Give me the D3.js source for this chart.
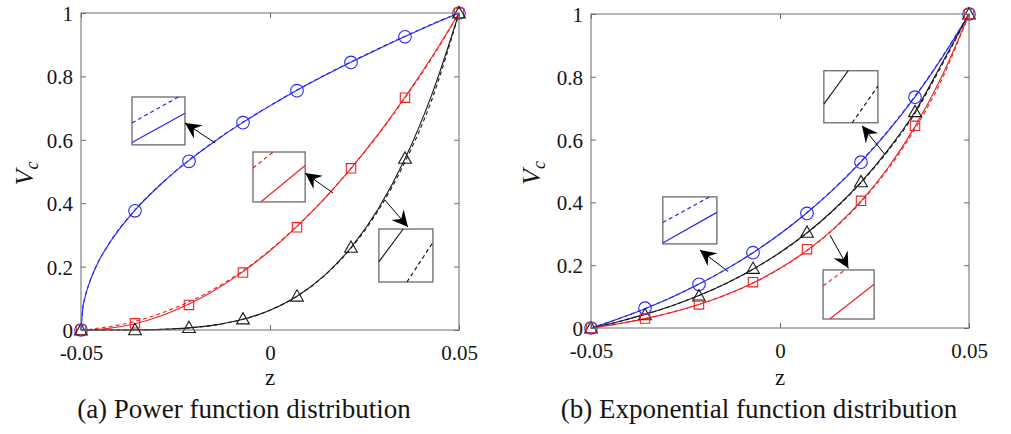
<!DOCTYPE html>
<html>
<head>
<meta charset="utf-8">
<script src="https://cdn.jsdelivr.net/npm/d3@7"></script>
<style>
  body { margin: 0; background: #fff; }
  svg text { font-family: "Liberation Serif", "Times New Roman", serif !important; fill: #151515; }
</style>
</head>
<body>
<svg id="chart" width="1011" height="434" font-family="Liberation Serif, serif"></svg>
<script>
// ---- data -------------------------------------------------------------
// marker abscissae (seven equal steps across the thickness)
const markerZ = [-0.05, -0.035714, -0.021429, -0.007143, 0.007143, 0.021429, 0.035714, 0.05];
// abscissae used for the continuous curves
const curveZ = [-0.05, -0.0495, -0.049, -0.048, -0.0465, -0.045,
  -0.042857, -0.035714, -0.028571, -0.021429, -0.014286, -0.007143, 0,
  0.007143, 0.014286, 0.021429, 0.028571, 0.035714, 0.042857, 0.05];

// (a) power function distribution
const powBlueLine   = [0, 0.071, 0.100, 0.141, 0.187, 0.224, 0.267, 0.378, 0.463, 0.535, 0.598, 0.655, 0.707, 0.756, 0.802, 0.845, 0.886, 0.926, 0.964, 1];
const powBlueDash   = [0, 0.072, 0.101, 0.142, 0.188, 0.225, 0.268, 0.379, 0.464, 0.536, 0.599, 0.656, 0.708, 0.757, 0.803, 0.846, 0.887, 0.927, 0.965, 1];
const powRedLine    = [0, 0.00003, 0.0001, 0.0004, 0.0012, 0.0025, 0.005, 0.020, 0.046, 0.082, 0.128, 0.184, 0.250, 0.327, 0.413, 0.510, 0.617, 0.735, 0.862, 1];
const powRedDash    = [0, 0.0003, 0.0008, 0.0018, 0.004, 0.0065, 0.010, 0.027, 0.054, 0.089, 0.133, 0.187, 0.252, 0.328, 0.413, 0.510, 0.615, 0.732, 0.858, 1];
const powBlackLine  = [0, 0, 0, 0, 0, 0, 0.00003, 0.0004, 0.0021, 0.0067, 0.0163, 0.0337, 0.0625, 0.1066, 0.1708, 0.2603, 0.381, 0.540, 0.744, 1];
const powBlackDash  = [0, 0, 0, 0, 0, 0, 0.00003, 0.0004, 0.0021, 0.0067, 0.0163, 0.0337, 0.0625, 0.1066, 0.1700, 0.2580, 0.376, 0.530, 0.728, 1];
const powBlueMark   = [0, 0.376, 0.532, 0.654, 0.755, 0.844, 0.925, 1];
const powRedMark    = [0, 0.021, 0.079, 0.181, 0.324, 0.510, 0.733, 1];
const powBlackMark  = [0, 0.001, 0.008, 0.035, 0.107, 0.261, 0.542, 1];

// (b) exponential function distribution
const expBlueLine   = [0, 0.0019, 0.0038, 0.0077, 0.0136, 0.0195, 0.0289, 0.0615, 0.0982, 0.1398, 0.1867, 0.2396, 0.2994, 0.3669, 0.4432, 0.5293, 0.6264, 0.7362, 0.8602, 1];
const expBlueDash   = [0, 0.0019, 0.0038, 0.0077, 0.0136, 0.0195, 0.0290, 0.0617, 0.0985, 0.1402, 0.1872, 0.2402, 0.3002, 0.3679, 0.4445, 0.5310, 0.6285, 0.7385, 0.8625, 1];
const expBlackLine  = [0, 0.0013, 0.0026, 0.0052, 0.0091, 0.0131, 0.0199, 0.0434, 0.0710, 0.1035, 0.1420, 0.1872, 0.2405, 0.3033, 0.3774, 0.4647, 0.5675, 0.6888, 0.8433, 1];
const expBlackDash  = [0, 0.0013, 0.0026, 0.0052, 0.0091, 0.0131, 0.0199, 0.0434, 0.0710, 0.1035, 0.1418, 0.1868, 0.2398, 0.3022, 0.3760, 0.4625, 0.5640, 0.6840, 0.8380, 1];
const expRedLine    = [0, 0.0009, 0.0017, 0.0035, 0.0062, 0.0089, 0.0134, 0.0299, 0.0502, 0.0751, 0.1058, 0.1436, 0.1900, 0.2472, 0.3175, 0.4039, 0.5104, 0.6413, 0.8023, 1];
const expRedDash    = [0, 0.0009, 0.0017, 0.0035, 0.0062, 0.0089, 0.0134, 0.0299, 0.0502, 0.0751, 0.1056, 0.1432, 0.1893, 0.2462, 0.3160, 0.4010, 0.5060, 0.6340, 0.7930, 1];
const expBlueMark   = [0, 0.063, 0.139, 0.240, 0.365, 0.528, 0.735, 1];
const expBlackMark  = [0, 0.042, 0.102, 0.190, 0.305, 0.466, 0.689, 1];
const expRedMark    = [0, 0.030, 0.075, 0.146, 0.251, 0.405, 0.644, 1];

// axes ticks
const xTickValues = [-0.05, 0, 0.05];
const xTickLabels = ["-0.05", "0", "0.05"];
const yTickValues = [0, 0.2, 0.4, 0.6, 0.8, 1];
const yTickLabels = ["0", "0.2", "0.4", "0.6", "0.8", "1"];

const captions = ["(a) Power function distribution", "(b) Exponential function distribution"];

// ---- styling & layout --------------------------------------------------
const FONT = '"Liberation Serif", "Times New Roman", serif';
const COLORS = { blue: "#2828f2", red: "#ee2222", black: "#1a1a1a" };
const AXIS_COLOR = "#6a6a6a";

const panels = [
  {
    caption: captions[0],
    frame: { left: 81, right: 459, top: 13, bottom: 330 },
    ylabelX: 33, captionX: 244,
    series: [
      { color: "blue",  line: powBlueLine,  dash: powBlueDash,  marks: powBlueMark,  shape: "circle" },
      { color: "red",   line: powRedLine,   dash: powRedDash,   marks: powRedMark,   shape: "square" },
      { color: "black", line: powBlackLine, dash: powBlackDash, marks: powBlackMark, shape: "triangle" }
    ],
    // magnified views: box in data units, inner strokes as fractions of the box
    insets: [
      { color: "blue",  box: [-0.0365, -0.0225, 0.735, 0.584],
        dashed: [[0, 0.54], [0.875, 0]], solid: [[0, 0.95], [1, 0.34]],
        arrowFrom: [-0.0145, 0.590], arrowTo: [-0.0225, 0.653] },
      { color: "red",   box: [-0.0045, 0.0093, 0.5615, 0.404],
        dashed: [[0, 0.32], [0.39, 0]], solid: [[0.15, 1], [1, 0.27]],
        arrowFrom: [0.0167, 0.432], arrowTo: [0.0093, 0.495] },
      { color: "black", box: [0.0288, 0.0431, 0.3186, 0.1514],
        dashed: [[0.52, 1], [1, 0.25]], solid: [[0, 0.62], [0.45, 0]],
        arrowFrom: [0.0304, 0.410], arrowTo: [0.0365, 0.325] }
    ]
  },
  {
    caption: captions[1],
    frame: { left: 591, right: 969, top: 14, bottom: 328 },
    ylabelX: 540, captionX: 759,
    series: [
      { color: "blue",  line: expBlueLine,  dash: expBlueDash,  marks: expBlueMark,  shape: "circle" },
      { color: "black", line: expBlackLine, dash: expBlackDash, marks: expBlackMark, shape: "triangle" },
      { color: "red",   line: expRedLine,   dash: expRedDash,   marks: expRedMark,   shape: "square" }
    ],
    insets: [
      { color: "black", box: [0.0116, 0.0259, 0.8193, 0.6535],
        dashed: [[0.525, 1], [1, 0.295]], solid: [[0, 0.64], [0.45, 0]],
        arrowFrom: [0.0278, 0.5515], arrowTo: [0.0217, 0.644] },
      { color: "blue",  box: [-0.0310, -0.0167, 0.4176, 0.2678],
        dashed: [[0, 0.545], [0.865, 0]], solid: [[0, 0.98], [1, 0.33]],
        arrowFrom: [-0.0137, 0.1795], arrowTo: [-0.0212, 0.2486] },
      { color: "red",   box: [0.0114, 0.0249, 0.1849, 0.0287],
        dashed: [[0, 0.324], [0.43, 0]], solid: [[0.13, 1], [1, 0.29]],
        arrowFrom: [0.0132, 0.2965], arrowTo: [0.0181, 0.190] }
    ]
  }
];

// ---- drawing -----------------------------------------------------------
const svg = d3.select("#chart");

function markerPath(shape) {
  if (shape === "square") return "M-4.7,-4.7H4.7V4.7H-4.7Z";
  if (shape === "triangle") return "M0,-6.3L6.4,5L-6.4,5Z";
  return null;
}

function arrowHead(g, x1, y1, x2, y2) {
  const ang = Math.atan2(y2 - y1, x2 - x1) * 180 / Math.PI;
  const L = 16, W = 8;
  g.append("path")
    .attr("d", `M0,0L${-L},${-W}L${-L * 0.66},0L${-L},${W}Z`)
    .attr("transform", `translate(${x2},${y2}) rotate(${ang})`)
    .attr("fill", "#000");
}

function serif(sel) {
  return sel.attr("font-family", FONT).style("font-family", FONT);
}

panels.forEach(p => {
  const f = p.frame;
  const x = d3.scaleLinear().domain([-0.05, 0.05]).range([f.left, f.right]);
  const y = d3.scaleLinear().domain([0, 1]).range([f.bottom, f.top]);
  const g = svg.append("g");

  // curves: dashed first, solid over it
  const line = d3.line().x((d, i) => x(curveZ[i])).y(d => y(d)).curve(d3.curveMonotoneX);
  p.series.forEach(s => {
    g.append("path").attr("d", line(s.dash)).attr("fill", "none")
      .attr("stroke", COLORS[s.color]).attr("stroke-width", 1.1)
      .attr("stroke-dasharray", "4,3");
  });
  p.series.forEach(s => {
    g.append("path").attr("d", line(s.line)).attr("fill", "none")
      .attr("stroke", COLORS[s.color]).attr("stroke-width", 1.1);
  });

  // markers
  p.series.forEach(s => {
    const mg = g.append("g");
    s.marks.forEach((v, i) => {
      const cx = x(markerZ[i]), cy = y(v);
      if (s.shape === "circle") {
        mg.append("circle").attr("cx", cx).attr("cy", cy).attr("r", 6.3)
          .attr("fill", "none").attr("stroke", COLORS[s.color]).attr("stroke-width", 1.1);
      } else {
        mg.append("path").attr("d", markerPath(s.shape))
          .attr("transform", `translate(${cx},${cy})`)
          .attr("fill", "none").attr("stroke", COLORS[s.color]).attr("stroke-width", 1.1);
      }
    });
  });

  // axis frame with inward ticks on all sides
  g.append("rect").attr("x", f.left).attr("y", f.top)
    .attr("width", f.right - f.left).attr("height", f.bottom - f.top)
    .attr("fill", "none").attr("stroke", AXIS_COLOR).attr("stroke-width", 1);

  const axes = [
    d3.axisLeft(y).tickValues(yTickValues).tickSize(-5).tickPadding(8)
      .tickFormat((d, i) => yTickLabels[i]),
    d3.axisRight(y).tickValues(yTickValues).tickSize(-5).tickFormat(""),
    d3.axisBottom(x).tickValues(xTickValues).tickSize(-5).tickFormat((d, i) => xTickLabels[i]),
    d3.axisTop(x).tickValues(xTickValues).tickSize(-5).tickFormat("")
  ];
  const pos = [
    `translate(${f.left},0)`, `translate(${f.right},0)`,
    `translate(0,${f.bottom})`, `translate(0,${f.top})`
  ];
  axes.forEach((ax, i) => {
    const ag = g.append("g").attr("transform", pos[i]).call(ax);
    serif(ag);
    ag.select(".domain").remove();
    ag.selectAll("line").attr("stroke", AXIS_COLOR);
    serif(ag.selectAll("text")).attr("font-size", 21).attr("fill", "#151515");
    if (i === 0) ag.selectAll("text").attr("dy", "0.36em");
    if (i === 2) ag.selectAll("text").attr("y", 30).attr("dy", null);
  });

  // axis titles
  serif(g.append("text")).attr("x", x(0)).attr("y", 385).attr("text-anchor", "middle")
    .attr("font-size", 23).text("z");
  const yl = serif(g.append("text"))
    .attr("transform", `translate(${p.ylabelX},${(f.top + f.bottom) / 2 + 2}) rotate(-90)`)
    .attr("text-anchor", "middle").attr("font-size", 26).attr("font-style", "italic");
  yl.append("tspan").text("V");
  yl.append("tspan").attr("font-size", 18).attr("dy", 5).text("c");

  // caption
  serif(svg.append("text")).attr("x", p.captionX).attr("y", 418).attr("text-anchor", "middle")
    .attr("font-size", 27).text(p.caption);

  // insets with arrows
  p.insets.forEach(ins => {
    const bx0 = x(ins.box[0]), bx1 = x(ins.box[1]);
    const by0 = y(ins.box[2]), by1 = y(ins.box[3]);
    const bw = bx1 - bx0, bh = by1 - by0;
    const ig = g.append("g");
    ig.append("rect").attr("x", bx0).attr("y", by0).attr("width", bw).attr("height", bh)
      .attr("fill", "#fff").attr("stroke", AXIS_COLOR).attr("stroke-width", 1.3);
    const seg = pts => pts.map(q => [bx0 + q[0] * bw, by0 + q[1] * bh]);
    const d1 = seg(ins.dashed), s1 = seg(ins.solid);
    ig.append("line").attr("x1", d1[0][0]).attr("y1", d1[0][1]).attr("x2", d1[1][0]).attr("y2", d1[1][1])
      .attr("stroke", COLORS[ins.color]).attr("stroke-width", 1.2).attr("stroke-dasharray", "4,3");
    ig.append("line").attr("x1", s1[0][0]).attr("y1", s1[0][1]).attr("x2", s1[1][0]).attr("y2", s1[1][1])
      .attr("stroke", COLORS[ins.color]).attr("stroke-width", 1.2);

    const ax1 = x(ins.arrowFrom[0]), ay1 = y(ins.arrowFrom[1]);
    const ax2 = x(ins.arrowTo[0]), ay2 = y(ins.arrowTo[1]);
    ig.append("line").attr("x1", ax1).attr("y1", ay1).attr("x2", ax2).attr("y2", ay2)
      .attr("stroke", "#000").attr("stroke-width", 1);
    arrowHead(ig, ax1, ay1, ax2, ay2);
  });
});
</script>
</body>
</html>
